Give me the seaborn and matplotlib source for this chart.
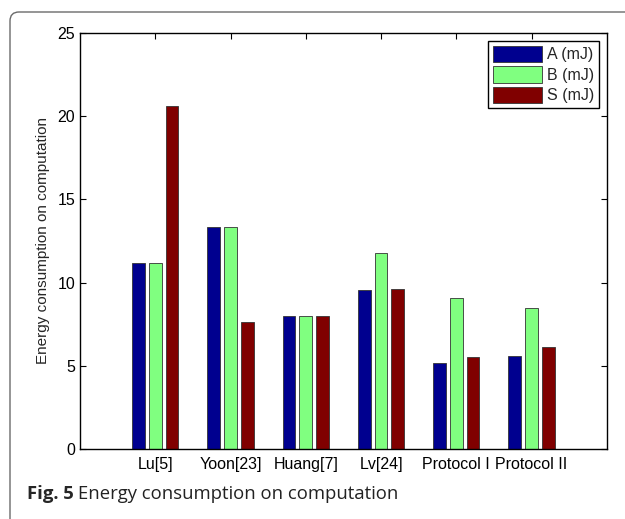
import pandas as pd
import numpy as np
import matplotlib
matplotlib.use('Agg')
import matplotlib.pyplot as plt
from matplotlib.patches import FancyBboxPatch
import seaborn as sns

METHODS = ['Lu[5]', 'Yoon[23]', 'Huang[7]', 'Lv[24]', 'Protocol I', 'Protocol II']
A_MJ = [11.15, 13.31, 8.00, 9.58, 5.17, 5.59]
B_MJ = [11.15, 13.31, 8.00, 11.77, 9.10, 8.48]
S_MJ = [20.59, 7.60, 7.96, 9.62, 5.51, 6.11]
SERIES = ['A (mJ)', 'B (mJ)', 'S (mJ)']
COLORS = ['#00008F', '#80FF80', '#800000']

# 长表
df = pd.DataFrame({'方案': METHODS * 3,
                   '系列': [s for s in SERIES for _ in METHODS],
                   '能耗': A_MJ + B_MJ + S_MJ})

sns.set_style('white')
plt.rcParams['font.family'] = ['Liberation Sans', 'DejaVu Sans']

fig = plt.figure(figsize=(6.25, 5.19), dpi=100)
ax = fig.add_axes([0.128, 0.135, 0.843, 0.8015])

sns.barplot(data=df, x='方案', y='能耗', hue='系列', palette=COLORS,
            width=0.667, gap=0.235, edgecolor='#333333', linewidth=0.6,
            saturation=1, ax=ax)

ax.set_xlim(-1, 6)
ax.set_ylim(0, 25)
ax.set_yticks([0, 5, 10, 15, 20, 25])
ax.set_xlabel('')
ax.set_ylabel('Energy consumption on computation', fontsize=11, labelpad=5)
ax.tick_params(direction='in', length=4, width=0.8, labelsize=11.5,
               top=True, right=True, bottom=True, left=True, colors='black')
ax.tick_params(axis='x', pad=6)
for sp in ax.spines.values():
    sp.set_visible(True)
    sp.set_color('black')
    sp.set_linewidth(1.0)

leg = ax.legend(loc='upper right', bbox_to_anchor=(0.985, 0.981), fontsize=11.5,
                handlelength=3.1, handleheight=1.2, handletextpad=0.3,
                labelspacing=0.25, borderpad=0.3, borderaxespad=0,
                fancybox=False, framealpha=1, edgecolor='black')
leg.get_frame().set_linewidth(1.0)

# 外框
frame = FancyBboxPatch((10, -40), 700, 547, boxstyle='round,pad=0,rounding_size=9',
                       transform=None, facecolor='none', edgecolor='#6a6a6a',
                       linewidth=1.0, zorder=0)
fig.patches.append(frame)

# 图注
renderer = fig.canvas.get_renderer()
t1 = fig.text(27 / 625, 1 - 499 / 519, 'Fig. 5', fontsize=13.3, fontweight='bold',
              family=['Open Sans', 'DejaVu Sans'], va='baseline', ha='left')
bb = t1.get_window_extent(renderer)
fig.text((bb.x1 + 4) / 625, 1 - 499 / 519, 'Energy consumption on computation',
         fontsize=13.3, family=['Open Sans', 'DejaVu Sans'], va='baseline', ha='left',
         color='#222222')

fig.savefig('out.png', dpi=100)
